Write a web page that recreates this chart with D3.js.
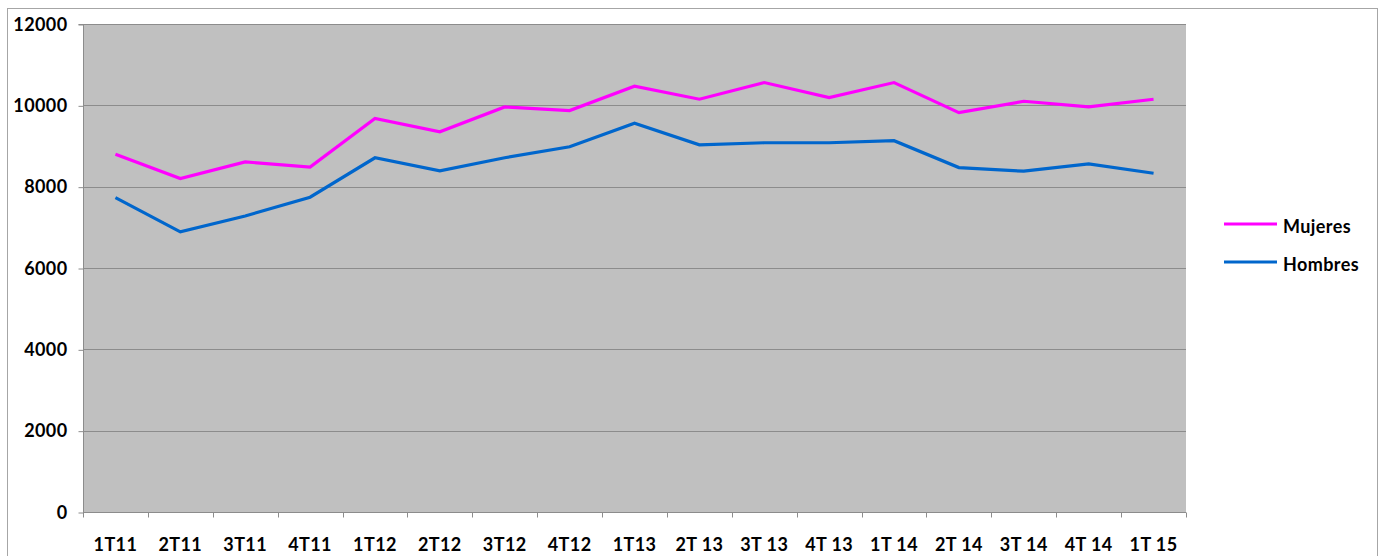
<!DOCTYPE html>
<html><head><meta charset="utf-8">
<script src="https://cdn.jsdelivr.net/npm/d3@7"></script>
<style>
html,body{margin:0;padding:0;background:#fff;}
svg{display:block;}
text{font-family:Lato,"Open Sans",sans-serif;font-weight:bold;fill:#000;letter-spacing:0.4px;}
</style></head><body>
<svg id="c" width="1382" height="556"></svg>
<script>
const categories = ["1T11","2T11","3T11","4T11","1T12","2T12","3T12","4T12","1T13","2T13","3T13","4T13","1T14","2T14","3T14","4T14","1T15"];
const categoryLabels = ["1T11","2T11","3T11","4T11","1T12","2T12","3T12","4T12","1T13","2T 13","3T 13","4T 13","1T 14","2T 14","3T 14","4T 14","1T 15"];
const mujeres = [8800,8200,8610,8480,9680,9350,9960,9870,10470,10150,10560,10190,10560,9820,10100,9960,10150];
const hombres = [7730,6890,7280,7740,8710,8390,8710,8980,9560,9030,9080,9080,9130,8470,8380,8560,8330];
const yTicks = [0,2000,4000,6000,8000,10000,12000];
const seriesNames = ["Mujeres","Hombres"];
const seriesColors = ["#ff00ff","#0066cc"];

const svg = d3.select("#c");
const L = 83, R = 1186, T = 24, B = 512;
const FS = "18px";

// outer border
svg.append("rect").attr("x",7.5).attr("y",8.5).attr("width",1370).attr("height",560)
  .attr("fill","none").attr("stroke","#a6a6a6").attr("stroke-width",1);

const x = d3.scaleBand().domain(categories).range([L,R]).padding(0);
const y = d3.scaleLinear().domain([0,12000]).range([B,T]);

svg.append("rect").attr("x",L).attr("y",T).attr("width",R-L).attr("height",B-T).attr("fill","#c0c0c0");

// gridlines
svg.append("g").selectAll("line").data(yTicks.filter(d=>d>0)).join("line")
  .attr("x1",L).attr("x2",R).attr("y1",d=>Math.round(y(d))+0.5).attr("y2",d=>Math.round(y(d))+0.5)
  .attr("stroke","#8c8c8c").attr("stroke-width",1);

// y axis
const yAxis = d3.axisLeft(y).tickValues(yTicks).tickSize(5).tickPadding(11).tickFormat(d=>String(d));
const gy = svg.append("g").attr("transform",`translate(${L+0.5},0.5)`).call(yAxis);
gy.select(".domain").attr("stroke","#8c8c8c").attr("d",`M-5,${T}H0V${B}`);
gy.selectAll(".tick line").attr("stroke","#8c8c8c");
gy.selectAll(".tick text").style("font-size",FS).style("font-family","Lato,'Open Sans',sans-serif").style("font-weight","bold").attr("fill","#000");

// x axis
const gx = svg.append("g").attr("transform",`translate(0,${B+0.5})`);
gx.append("line").attr("x1",L).attr("x2",R).attr("stroke","#8c8c8c");
const bounds = categories.map(c=>x(c)).concat([R]);
gx.selectAll("line.t").data(bounds).join("line").attr("class","t")
  .attr("x1",d=>Math.round(d)+0.5).attr("x2",d=>Math.round(d)+0.5).attr("y1",0).attr("y2",5).attr("stroke","#8c8c8c");
gx.selectAll("text").data(categories).join("text")
  .attr("x",d=>x(d)+x.bandwidth()/2).attr("y",38).attr("text-anchor","middle")
  .style("font-size",FS).text((d,i)=>categoryLabels[i]);

// lines
const line = d3.line().x((d,i)=>x(categories[i])+x.bandwidth()/2).y(d=>y(d));
[mujeres,hombres].forEach((s,k)=>{
  svg.append("path").datum(s).attr("d",line).attr("fill","none")
    .attr("stroke",seriesColors[k]).attr("stroke-width",3.2).attr("stroke-linejoin","miter");
});

// legend
const lg = svg.append("g");
seriesNames.forEach((n,k)=>{
  const yy = 224 + k*38;
  lg.append("line").attr("x1",1224).attr("x2",1277).attr("y1",yy).attr("y2",yy)
    .attr("stroke",seriesColors[k]).attr("stroke-width",3.2);
  lg.append("text").attr("x",1283).attr("y",yy+9).style("font-size",FS).text(n);
});
</script>
</body></html>
